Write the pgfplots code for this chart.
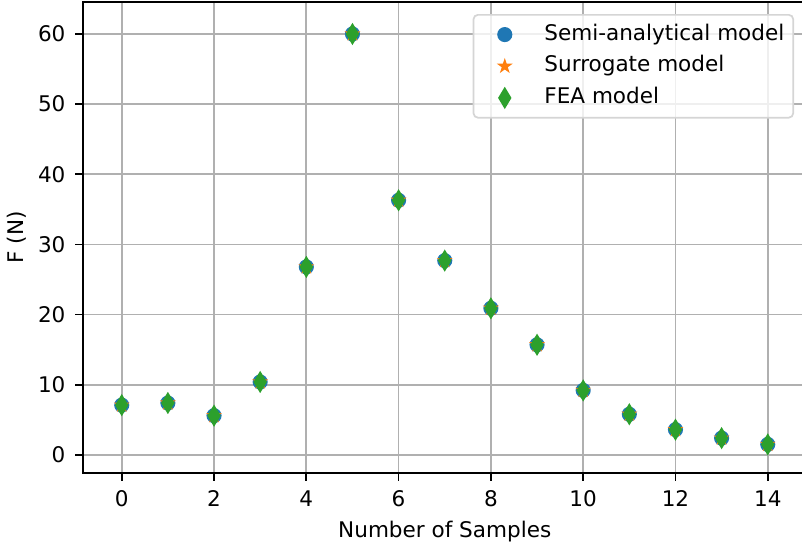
\documentclass[border=0pt]{standalone}
\usepackage{fontspec}
\setmainfont{DejaVu Sans}
\usepackage{pgfplots}
\pgfplotsset{compat=1.18}
\definecolor{mplblue}{HTML}{1F77B4}
\definecolor{mplorange}{HTML}{FF7F0E}
\definecolor{mplgreen}{HTML}{2CA02C}
\definecolor{gridgray}{HTML}{B0B0B0}
\definecolor{legframe}{HTML}{D5D5D5}
\pgfdeclareplotmark{mplstar}{%
  \pgfpathmoveto{\pgfpointpolar{90}{\pgfplotmarksize}}%
  \pgfpathlineto{\pgfpointpolar{126}{0.382\pgfplotmarksize}}%
  \pgfpathlineto{\pgfpointpolar{162}{\pgfplotmarksize}}%
  \pgfpathlineto{\pgfpointpolar{198}{0.382\pgfplotmarksize}}%
  \pgfpathlineto{\pgfpointpolar{234}{\pgfplotmarksize}}%
  \pgfpathlineto{\pgfpointpolar{270}{0.382\pgfplotmarksize}}%
  \pgfpathlineto{\pgfpointpolar{306}{\pgfplotmarksize}}%
  \pgfpathlineto{\pgfpointpolar{342}{0.382\pgfplotmarksize}}%
  \pgfpathlineto{\pgfpointpolar{18}{\pgfplotmarksize}}%
  \pgfpathlineto{\pgfpointpolar{54}{0.382\pgfplotmarksize}}%
  \pgfpathclose
  \pgfusepathqfillstroke
}
\pgfplotstableread{
x y
0 7.1
1 7.4
2 5.6
3 10.4
4 26.8
5 60.0
6 36.3
7 27.7
8 20.9
9 15.7
10 9.2
11 5.8
12 3.6
13 2.4
14 1.5
}\semi
\pgfplotstableread{
x y
0 7.1
1 7.4
2 5.6
3 10.4
4 26.8
5 60.0
6 36.3
7 27.7
8 20.9
9 15.7
10 9.2
11 5.8
12 3.6
13 2.4
14 1.5
}\surr
\pgfplotstableread{
x y
0 7.1
1 7.4
2 5.6
3 10.4
4 26.8
5 60.0
6 36.3
7 27.7
8 20.9
9 15.7
10 9.2
11 5.8
12 3.6
13 2.4
14 1.5
}\fea
\begin{document}
\begin{tikzpicture}
\begin{axis}[
  scale only axis,
  width=336pt, height=218.8pt,
  xmin=-0.845, xmax=14.845,
  ymin=-2.6, ymax=64.6,
  xtick={0,2,...,14},
  ytick={0,10,...,60},
  font=\fontsize{10pt}{12pt}\selectfont,
  /pgf/number format/assume math mode=true,
  tick pos=left,
  tick align=outside,
  major tick length=3.5pt,
  every tick/.style={black, line width=0.8pt},
  axis line style={black, line width=0.8pt},
  grid=major,
  major grid style={gridgray, line width=0.8pt},
  xlabel={Number of Samples},
  ylabel={F (N)},
  ylabel style={yshift=-1.5pt},
  xticklabel style={yshift=-1pt},
  yticklabel style={xshift=-1pt},
  legend cell align=left,
  legend style={at={(1,1)}, anchor=north east, xshift=-5.9pt, yshift=-5.7pt,
    draw=legframe, line width=0.8pt, rounded corners=2pt, fill=white, fill opacity=0.8, text opacity=1,
    inner xsep=4.1pt, inner ysep=4.4pt,
    nodes={inner sep=0pt, text height=7.3pt, text depth=2.2pt},
    column sep=8pt, row sep=5.2pt,
    font=\fontsize{10pt}{12pt}\selectfont},
  legend image code/.code={\path (0pt,0pt) (20pt,0pt); \draw[#1, fill opacity=1, draw opacity=1] plot coordinates {(10pt,0pt)};},
]
\addplot[only marks, mark=*, mark size=3.1pt, color=mplblue, mark options={line width=0.8pt, fill=mplblue, draw=mplblue}] table {\semi};
\addlegendentry{Semi-analytical model}
\addplot[only marks, mark=mplstar, mark size=2.9pt, color=mplorange, mark options={line width=0.6pt, fill=mplorange, draw=mplorange}] table {\surr};
\addlegendentry{Surrogate model}
\addplot[only marks, mark=diamond*, mark size=4.4pt, color=mplgreen, mark options={xscale=0.8, line width=0.8pt, fill=mplgreen, draw=mplgreen}] table {\fea};
\addlegendentry{FEA model}
\end{axis}
\pgfresetboundingbox
\path[use as bounding box] ([xshift=-38.4pt,yshift=-34.2pt]current axis.south west) rectangle ([xshift=333.8pt,yshift=0.8pt]current axis.north west);
\end{tikzpicture}
\end{document}
